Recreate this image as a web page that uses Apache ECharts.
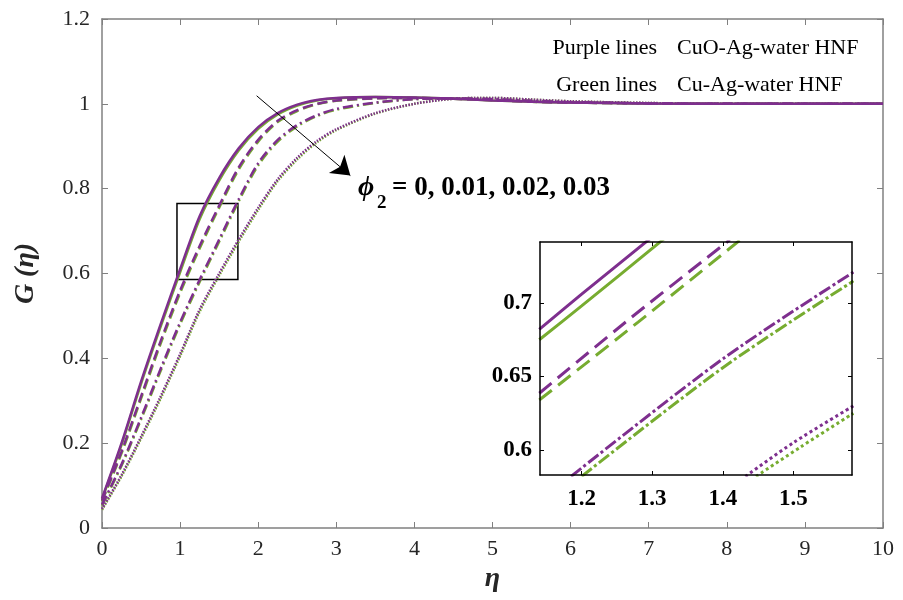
<!DOCTYPE html>
<html>
<head>
<meta charset="utf-8">
<script src="https://cdn.jsdelivr.net/npm/echarts@6/dist/echarts.min.js"></script>
<style>
  html, body { margin: 0; padding: 0; background: #fff; }
  #chart { width: 903px; height: 600px; }
</style>
</head>
<body>
<div id="chart"></div>
<script>
// main plot: eta grid and G(eta) for phi2 = 0, 0.01, 0.02, 0.03
const eta = [0, 0.25, 0.5, 0.75, 1, 1.25, 1.5, 1.75, 2, 2.25, 2.5, 2.75, 3, 3.5, 4, 4.5, 5, 5.5, 6, 7, 8, 9, 10];

// purple = CuO-Ag-water HNF
const purpleSolid   = [0.070, 0.200, 0.345, 0.480, 0.610, 0.735, 0.825, 0.895, 0.945, 0.978, 0.998, 1.009, 1.014, 1.016, 1.015, 1.012, 1.008, 1.005, 1.003, 1.001, 1.000, 1.000, 1.000];
const purpleDashed  = [0.065, 0.180, 0.310, 0.440, 0.560, 0.665, 0.760, 0.850, 0.915, 0.960, 0.985, 1.000, 1.008, 1.013, 1.014, 1.012, 1.009, 1.005, 1.003, 1.001, 1.000, 1.000, 1.000];
const purpleDashDot = [0.055, 0.150, 0.260, 0.375, 0.485, 0.585, 0.680, 0.775, 0.860, 0.915, 0.950, 0.973, 0.988, 1.003, 1.011, 1.013, 1.011, 1.007, 1.004, 1.001, 1.000, 1.000, 1.000];
const purpleDotted  = [0.045, 0.125, 0.215, 0.310, 0.410, 0.515, 0.600, 0.680, 0.755, 0.822, 0.873, 0.912, 0.940, 0.978, 1.000, 1.012, 1.014, 1.010, 1.006, 1.002, 1.000, 1.000, 1.000];

// green = Cu-Ag-water HNF
const greenSolid   = [0.068, 0.196, 0.340, 0.474, 0.603, 0.728, 0.819, 0.890, 0.941, 0.975, 0.996, 1.008, 1.013, 1.016, 1.015, 1.012, 1.008, 1.005, 1.003, 1.001, 1.000, 1.000, 1.000];
const greenDashed  = [0.063, 0.176, 0.305, 0.434, 0.554, 0.659, 0.755, 0.845, 0.911, 0.957, 0.983, 0.999, 1.007, 1.013, 1.014, 1.012, 1.009, 1.005, 1.003, 1.001, 1.000, 1.000, 1.000];
const greenDashDot = [0.053, 0.147, 0.256, 0.370, 0.480, 0.580, 0.675, 0.770, 0.855, 0.911, 0.947, 0.971, 0.986, 1.002, 1.011, 1.013, 1.011, 1.007, 1.004, 1.001, 1.000, 1.000, 1.000];
const greenDotted  = [0.043, 0.122, 0.211, 0.305, 0.405, 0.510, 0.595, 0.675, 0.750, 0.818, 0.869, 0.909, 0.938, 0.977, 1.000, 1.012, 1.014, 1.010, 1.006, 1.002, 1.000, 1.000, 1.000];

// inset (zoomed) readings: [eta, G]
const insetPurpleSolid   = [[1.14, 0.682], [1.20, 0.706], [1.30, 0.745]];
const insetGreenSolid    = [[1.14, 0.675], [1.20, 0.698], [1.32, 0.745]];
const insetPurpleDashed  = [[1.14, 0.6386], [1.27, 0.690], [1.41, 0.743]];
const insetGreenDashed   = [[1.14, 0.634], [1.28, 0.687], [1.43, 0.745]];
const insetPurpleDashDot = [[1.185, 0.582], [1.40, 0.662], [1.585, 0.721]];
const insetGreenDashDot  = [[1.20, 0.582], [1.40, 0.656], [1.585, 0.715]];
const insetPurpleDotted  = [[1.432, 0.582], [1.50, 0.605], [1.585, 0.630]];
const insetGreenDotted   = [[1.447, 0.582], [1.51, 0.602], [1.585, 0.625]];

const insetXTicks = [1.2, 1.3, 1.4, 1.5];
const insetYTicks = [0.6, 0.65, 0.7];

// zoom box and arrow (data coords)
const zoomBox = [[0.96, 0.586], [1.74, 0.765]];
const arrowFromTo = [[1.98, 1.019], [3.18, 0.831]];

const PURPLE = '#7E2F8E';
const GREEN = '#77AC30';
const SERIF = '"Liberation Serif", "DejaVu Serif", serif';
const AXIS_GRAY = '#808080';

const pair = (ys) => eta.map((x, i) => [x, ys[i]]);

const styles = {
  solid: 'solid',
  dashed: [10, 5],
  dashDot: [10, 4, 2, 4],
  dotted: [1.5, 1.5]
};
const insetStyles = {
  solid: 'solid',
  dashed: [16, 8],
  dashDot: [13, 3, 3, 3],
  dotted: [3, 3]
};

function mainLine(data, color, dash, z) {
  return {
    type: 'line',
    xAxisIndex: 0, yAxisIndex: 0,
    data: pair(data),
    showSymbol: false,
    smooth: 0.3,
    z: z,
    silent: true,
    lineStyle: { color: color, width: 2.5, type: dash }
  };
}

function insetLine(data, color, dash, z) {
  return {
    type: 'line',
    xAxisIndex: 2, yAxisIndex: 2,
    data: data,
    showSymbol: false,
    smooth: 0.3,
    clip: true,
    z: z,
    silent: true,
    lineStyle: { color: color, width: 3, type: dash }
  };
}

const chart = echarts.init(document.getElementById('chart'));

const series = [
  mainLine(greenSolid, GREEN, styles.solid, 2),
  mainLine(greenDashed, GREEN, styles.dashed, 2),
  mainLine(greenDashDot, GREEN, styles.dashDot, 2),
  mainLine(greenDotted, GREEN, styles.dotted, 2),
  mainLine(purpleSolid, PURPLE, styles.solid, 3),
  mainLine(purpleDashed, PURPLE, styles.dashed, 3),
  mainLine(purpleDashDot, PURPLE, styles.dashDot, 3),
  mainLine(purpleDotted, PURPLE, styles.dotted, 3),
  insetLine(insetGreenSolid, GREEN, insetStyles.solid, 12),
  insetLine(insetGreenDashed, GREEN, insetStyles.dashed, 12),
  insetLine(insetGreenDashDot, GREEN, insetStyles.dashDot, 12),
  insetLine(insetGreenDotted, GREEN, insetStyles.dotted, 12),
  insetLine(insetPurpleSolid, PURPLE, insetStyles.solid, 13),
  insetLine(insetPurpleDashed, PURPLE, insetStyles.dashed, 13),
  insetLine(insetPurpleDashDot, PURPLE, insetStyles.dashDot, 13),
  insetLine(insetPurpleDotted, PURPLE, insetStyles.dotted, 13)
];

// zoom rectangle
series[4].markArea = {
  silent: true,
  itemStyle: { color: 'rgba(0,0,0,0)', borderColor: '#000', borderWidth: 1.5 },
  label: { show: false },
  data: [[{ coord: zoomBox[0] }, { coord: zoomBox[1] }]]
};
// arrow
series[5].markLine = {
  silent: true,
  symbol: ['none', 'arrow'],
  symbolSize: 18,
  label: { show: false },
  lineStyle: { color: '#000', width: 1, type: 'solid' },
  data: [[{ coord: arrowFromTo[0] }, { coord: arrowFromTo[1] }]]
};

const mainTickLabel = { fontFamily: SERIF, fontSize: 22, color: '#262626' };

chart.setOption({
  animation: false,
  backgroundColor: '#fff',
  grid: [
    { left: 102, right: 20, top: 19, bottom: 72 },
    { left: 540, top: 242, width: 312, height: 233, show: true, backgroundColor: '#fff', borderWidth: 0, z: 10 }
  ],
  xAxis: [
    {
      gridIndex: 0, type: 'value', min: 0, max: 10, interval: 1,
      name: 'η', nameLocation: 'middle', nameGap: 36,
      nameTextStyle: { fontFamily: SERIF, fontSize: 28, fontWeight: 'bold', fontStyle: 'italic', color: '#262626' },
      axisLine: { onZero: false, lineStyle: { color: AXIS_GRAY, width: 1.5 } },
      axisTick: { inside: true, length: 6, lineStyle: { color: AXIS_GRAY } },
      axisLabel: Object.assign({ margin: 10 }, mainTickLabel),
      splitLine: { show: false }
    },
    {
      gridIndex: 0, type: 'value', min: 0, max: 10, interval: 1, position: 'top',
      axisLine: { onZero: false, lineStyle: { color: AXIS_GRAY, width: 1.5 } },
      axisTick: { inside: true, length: 6, lineStyle: { color: AXIS_GRAY } },
      axisLabel: { show: false },
      splitLine: { show: false }
    },
    {
      gridIndex: 1, type: 'value', min: 1.141, max: 1.583,
      axisLine: { onZero: false, lineStyle: { color: '#000', width: 1.5 } },
      axisTick: { inside: true, length: 4, customValues: insetXTicks, lineStyle: { color: '#000' } },
      axisLabel: { customValues: insetXTicks, margin: 13, fontFamily: SERIF, fontSize: 23, fontWeight: 'bold', color: '#000', formatter: (v) => v.toFixed(1) },
      splitLine: { show: false }, z: 14
    },
    {
      gridIndex: 1, type: 'value', min: 1.141, max: 1.583, position: 'top',
      axisLine: { onZero: false, lineStyle: { color: '#000', width: 1.5 } },
      axisTick: { inside: true, length: 4, customValues: insetXTicks, lineStyle: { color: '#000' } },
      axisLabel: { show: false },
      splitLine: { show: false }, z: 14
    }
  ],
  yAxis: [
    {
      gridIndex: 0, type: 'value', min: 0, max: 1.2, interval: 0.2,
      name: 'G (η)', nameLocation: 'middle', nameGap: 62, nameRotate: 90,
      nameTextStyle: { fontFamily: SERIF, fontSize: 28, fontWeight: 'bold', fontStyle: 'italic', color: '#262626' },
      axisLine: { onZero: false, lineStyle: { color: AXIS_GRAY, width: 1.5 } },
      axisTick: { inside: true, length: 6, lineStyle: { color: AXIS_GRAY } },
      axisLabel: Object.assign({ margin: 12, formatter: (v) => String(+v.toFixed(1)) }, mainTickLabel),
      splitLine: { show: false }
    },
    {
      gridIndex: 0, type: 'value', min: 0, max: 1.2, interval: 0.2, position: 'right',
      axisLine: { onZero: false, lineStyle: { color: AXIS_GRAY, width: 1.5 } },
      axisTick: { inside: true, length: 6, lineStyle: { color: AXIS_GRAY } },
      axisLabel: { show: false },
      splitLine: { show: false }
    },
    {
      gridIndex: 1, type: 'value', min: 0.583, max: 0.7415,
      axisLine: { onZero: false, lineStyle: { color: '#000', width: 1.5 } },
      axisTick: { inside: true, length: 4, customValues: insetYTicks, lineStyle: { color: '#000' } },
      axisLabel: { customValues: insetYTicks, margin: 8, fontFamily: SERIF, fontSize: 23, fontWeight: 'bold', color: '#000', formatter: (v) => String(+v.toFixed(2)) },
      splitLine: { show: false }, z: 14
    },
    {
      gridIndex: 1, type: 'value', min: 0.583, max: 0.7415, position: 'right',
      axisLine: { onZero: false, lineStyle: { color: '#000', width: 1.5 } },
      axisTick: { inside: true, length: 4, customValues: insetYTicks, lineStyle: { color: '#000' } },
      axisLabel: { show: false },
      splitLine: { show: false }, z: 14
    }
  ],
  graphic: [
    { type: 'text', x: 657, y: 48, z: 20, style: { text: 'Purple lines', font: '22px ' + SERIF, fill: '#000', align: 'right', verticalAlign: 'middle' } },
    { type: 'text', x: 677, y: 48, z: 20, style: { text: 'CuO-Ag-water HNF', font: '22px ' + SERIF, fill: '#000', align: 'left', verticalAlign: 'middle' } },
    { type: 'text', x: 657, y: 85, z: 20, style: { text: 'Green lines', font: '22px ' + SERIF, fill: '#000', align: 'right', verticalAlign: 'middle' } },
    { type: 'text', x: 677, y: 85, z: 20, style: { text: 'Cu-Ag-water HNF', font: '22px ' + SERIF, fill: '#000', align: 'left', verticalAlign: 'middle' } },
    { type: 'text', x: 358, y: 188, z: 20, style: { text: 'ϕ', font: 'italic bold 28px ' + SERIF, fill: '#000', align: 'left', verticalAlign: 'middle' } },
    { type: 'text', x: 377, y: 203, z: 20, style: { text: '2', font: 'bold 19px ' + SERIF, fill: '#000', align: 'left', verticalAlign: 'middle' } },
    { type: 'text', x: 392, y: 188, z: 20, style: { text: '= 0, 0.01, 0.02, 0.03', font: 'bold 27px ' + SERIF, fill: '#000', align: 'left', verticalAlign: 'middle' } }
  ],
  series: series
});
</script>
</body>
</html>
